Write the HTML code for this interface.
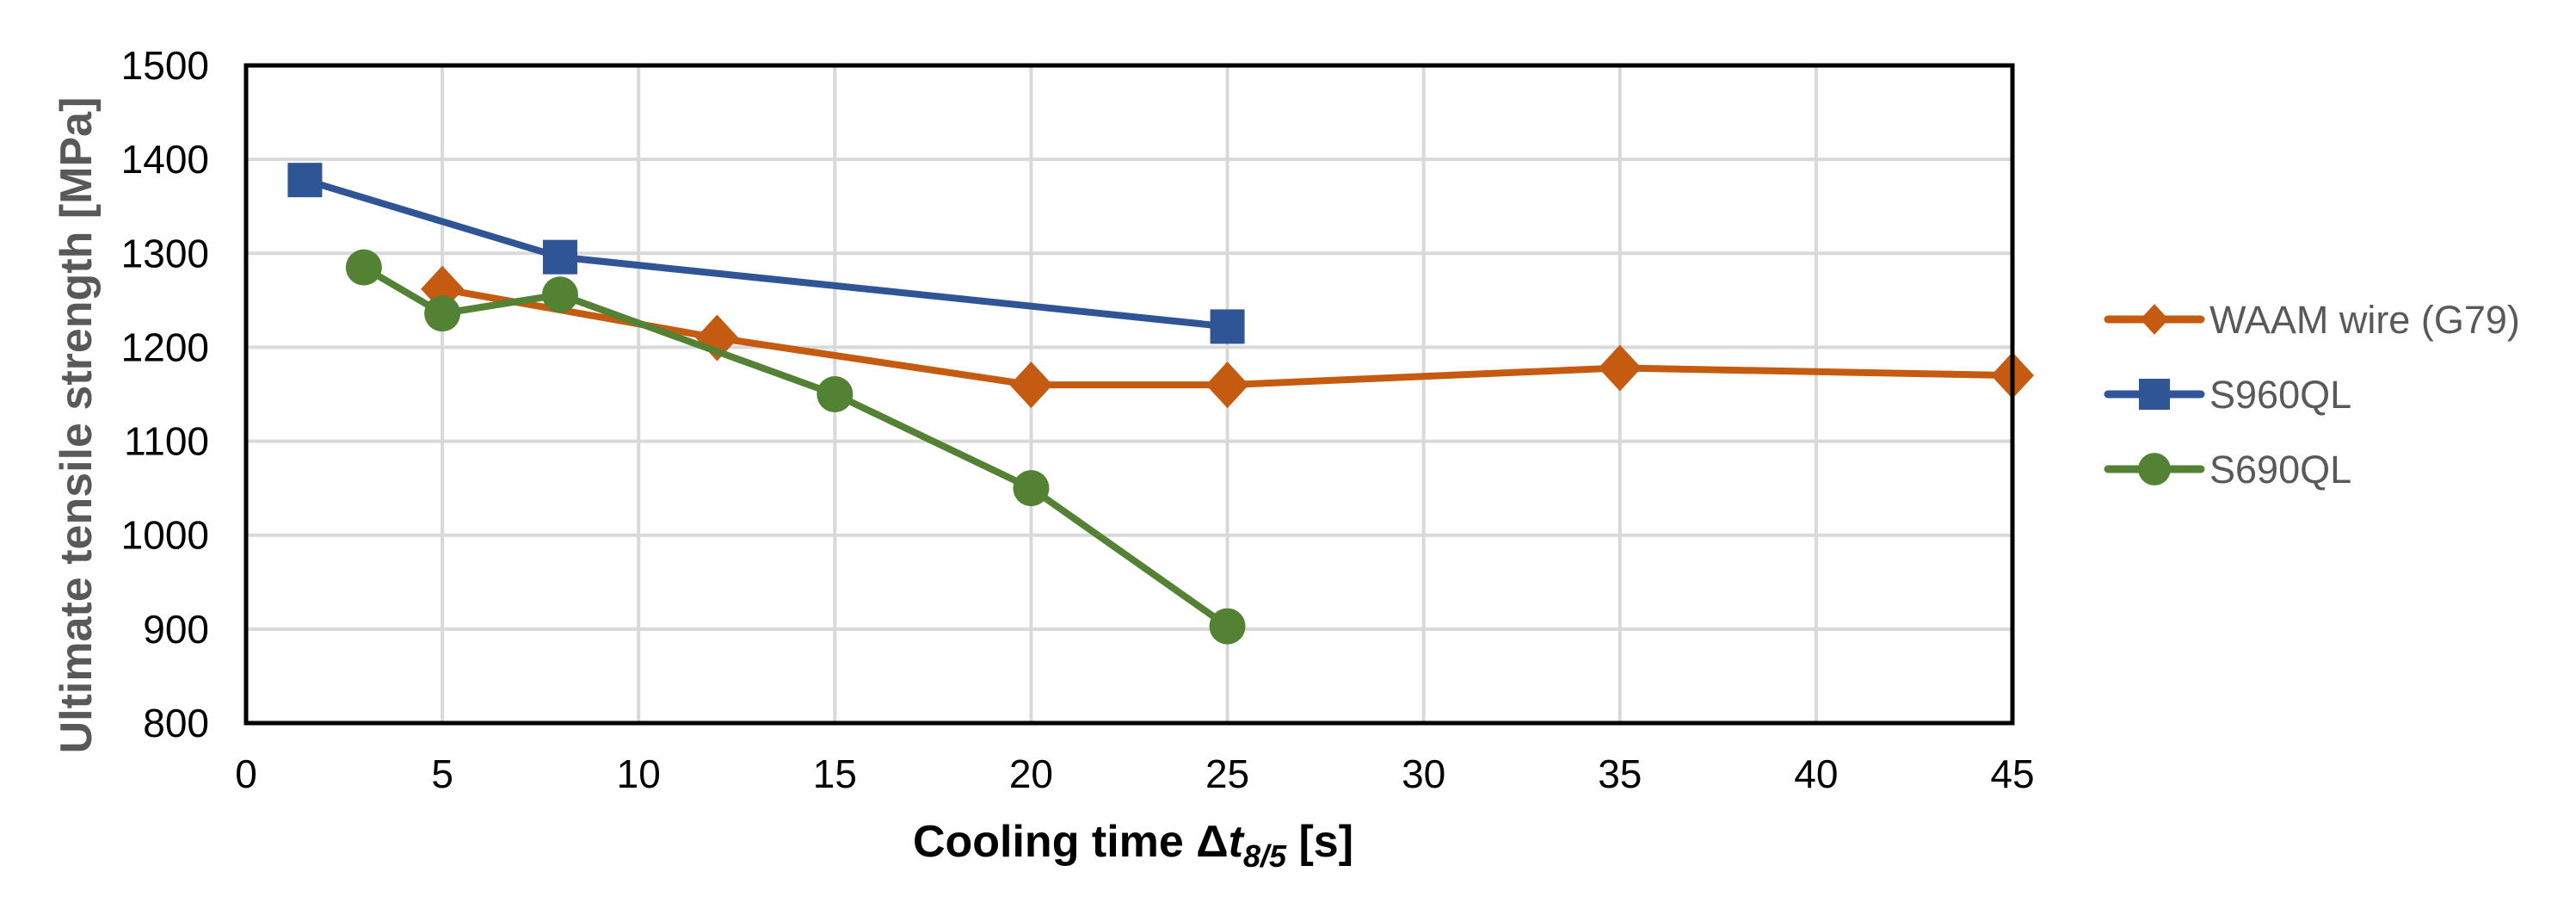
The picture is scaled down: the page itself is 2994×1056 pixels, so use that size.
<!DOCTYPE html>
<html><head><meta charset="utf-8"><style>
html,body{margin:0;padding:0;background:#fff;}
svg{display:block;font-family:"Liberation Sans",Arial,sans-serif;}
</style></head><body>
<svg id="chart" width="2994" height="1056" viewBox="0 0 2994 1056" xmlns="http://www.w3.org/2000/svg">
<g id="grid"></g>
<g id="series"></g>
<rect x="286" y="76" width="2053" height="764" fill="none" stroke="#000" stroke-width="5"/>
<g id="ticks"></g>
<text transform="translate(106,494) rotate(-90)" text-anchor="middle" font-size="52" font-weight="bold" fill="#595959">Ultimate tensile strength [MPa]</text>
<text x="1317" y="995" text-anchor="middle" font-size="52" font-weight="bold" fill="#000">Cooling time Δ<tspan font-style="italic">t</tspan><tspan font-style="italic" font-size="36" dy="12">8/5</tspan><tspan dy="-12"> [s]</tspan></text>
<g id="legend"></g>
</svg>
<script>
const xTicks=[0,5,10,15,20,25,30,35,40,45];
const yTicks=[800,900,1000,1100,1200,1300,1400,1500];
const seriesNames=["WAAM wire (G79)","S960QL","S690QL"];
const waamX=[5,12,20,25,35,45];
const waamY=[1262,1210,1160,1160,1178,1170];
const s960X=[1.5,8,25];
const s960Y=[1378,1296,1222];
const s690X=[3,5,8,15,20,25];
const s690Y=[1285,1236,1256,1150,1050,903];
const NS="http://www.w3.org/2000/svg";
const X0=286,X1=2339,Y0=840,Y1=76;
const sx=v=>X0+(v-0)/(45-0)*(X1-X0);
const sy=v=>Y0-(v-800)/(1500-800)*(Y0-Y1);
function mk(t,a,p){const e=document.createElementNS(NS,t);for(const k in a)e.setAttribute(k,a[k]);p.appendChild(e);return e;}
const grid=document.getElementById('grid'),ticks=document.getElementById('ticks'),ser=document.getElementById('series'),leg=document.getElementById('legend');
xTicks.forEach(v=>{
 const l=mk('line',{x1:sx(v),x2:sx(v),y1:Y1,y2:Y0,stroke:'#d9d9d9','stroke-width':4},grid);
 
 
 const t=mk('text',{x:sx(v),y:915,'text-anchor':'middle','font-size':46,fill:'#000'},ticks);t.textContent=v;
 
 
});
yTicks.forEach(v=>{
 const l=mk('line',{x1:X0,x2:X1,y1:sy(v),y2:sy(v),stroke:'#d9d9d9','stroke-width':4},grid);
 
 
 const t=mk('text',{x:243,y:sy(v)+16,'text-anchor':'end','font-size':46,fill:'#000'},ticks);t.textContent=v;
 
 
});
function marker(type,cx,cy,col,p,s){
 let e;
 if(type==='d')e=mk('polygon',{points:`${cx},${cy-27*s} ${cx+25*s},${cy} ${cx},${cy+27*s} ${cx-25*s},${cy}`,fill:col},p);
 else if(type==='s')e=mk('rect',{x:cx-20*s,y:cy-20*s,width:40*s,height:40*s,fill:col},p);
 else e=mk('circle',{cx:cx,cy:cy,r:21*s,fill:col},p);
 return e;
}
const defs=[[waamX,waamY,'#C55A11','d','waam'],[s960X,s960Y,'#2F5597','s','s960ql'],[s690X,s690Y,'#548235','c','s690ql']];
defs.forEach(([xs,ys,col,m,nm])=>{
 const g=mk('g',{},ser);
 
 
 const pl=mk('polyline',{points:xs.map((x,i)=>sx(x)+','+sy(ys[i])).join(' '),fill:'none',stroke:col,'stroke-width':8,'stroke-linejoin':'round'},g);
 
 
 xs.forEach((x,i)=>{const e=marker(m,sx(x),sy(ys[i]),col,g,1);
  
  });
});
const legY=[371,458,545];
defs.forEach(([xs,ys,col,m,nm],i)=>{
 const g=mk('g',{},leg);
 
 
 mk('line',{x1:2450,x2:2558,y1:legY[i],y2:legY[i],stroke:col,'stroke-width':9,'stroke-linecap':'round'},g);
 marker(m,2504,legY[i],col,g,m==='d'?0.66:0.9);
 const t=mk('text',{x:2568,y:legY[i]+16,'font-size':45,fill:'#595959'},g);t.textContent=seriesNames[i];
});
</script>
</body></html>
